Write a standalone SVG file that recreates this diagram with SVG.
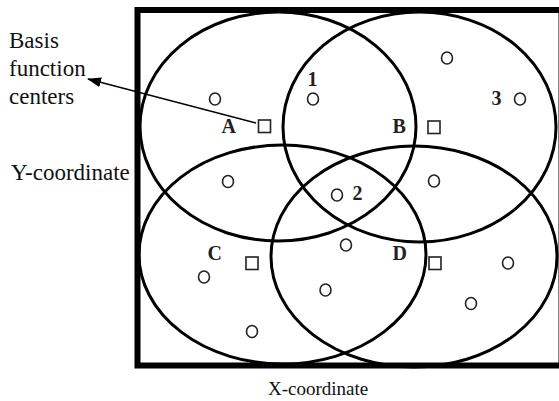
<svg xmlns="http://www.w3.org/2000/svg" width="559" height="401" viewBox="0 0 559 401">
<style>
.frame{fill:none;stroke:#000;stroke-width:6}
.rf{fill:none;stroke:#000;stroke-width:3}
.pt{fill:none;stroke:#222;stroke-width:1.6}
.ctr{fill:none;stroke:#222;stroke-width:1.6}
.lbl{font-family:"Liberation Serif","Times New Roman",serif;font-weight:bold;font-size:20px;fill:#222}
.txt{font-family:"Liberation Serif","Times New Roman",serif;fill:#111}
.conn{stroke:#000;stroke-width:1.6;fill:none}
</style>
<defs>
<marker id="ah" markerWidth="14" markerHeight="10" refX="13" refY="5" orient="auto" markerUnits="userSpaceOnUse">
<path d="M0,0 L14,5 L0,10 Z" fill="#000"/>
</marker>
</defs>
<rect width="559" height="401" fill="#fff"/>
<g id="frame"><rect class="frame" x="137.5" y="10" width="424" height="355.5"/></g>
<g id="regions">
<ellipse id="field-A" class="rf" cx="278" cy="126.5" rx="138" ry="114.5"/>
<ellipse id="field-B" class="rf" cx="419.5" cy="127" rx="136.5" ry="115"/>
<ellipse id="field-C" class="rf" cx="282.5" cy="254.5" rx="143.5" ry="109.5"/>
<ellipse id="field-D" class="rf" cx="414" cy="256.5" rx="143" ry="110.5"/>
</g>
<g id="centers">
<rect id="center-A" class="ctr" x="258.5" y="120" width="12" height="12.5"/>
<rect id="center-B" class="ctr" x="428" y="121" width="12" height="12.5"/>
<rect id="center-C" class="ctr" x="246" y="257" width="12" height="12.5"/>
<rect id="center-D" class="ctr" x="429" y="257" width="12" height="12.5"/>
</g>
<g id="points">
<ellipse class="pt" cx="215" cy="99" rx="5.5" ry="6"/>
<ellipse class="pt" cx="228" cy="181.5" rx="5.5" ry="6"/>
<ellipse class="pt" cx="313" cy="99" rx="5.5" ry="6"/>
<ellipse class="pt" cx="447" cy="58" rx="5.5" ry="6"/>
<ellipse class="pt" cx="520" cy="99" rx="5.5" ry="6"/>
<ellipse class="pt" cx="434" cy="181" rx="5.5" ry="6"/>
<ellipse class="pt" cx="337" cy="195" rx="5.5" ry="6"/>
<ellipse class="pt" cx="346" cy="245" rx="5.5" ry="6"/>
<ellipse class="pt" cx="325.5" cy="290" rx="5.5" ry="6"/>
<ellipse class="pt" cx="204" cy="277" rx="5.5" ry="6"/>
<ellipse class="pt" cx="252" cy="331.5" rx="5.5" ry="6"/>
<ellipse class="pt" cx="508" cy="263" rx="5.5" ry="6"/>
<ellipse class="pt" cx="471" cy="303.5" rx="5.5" ry="6"/>
</g>
<g id="labels">
<text class="lbl" x="221.5" y="132.5">A</text>
<text class="lbl" x="392.5" y="132.5">B</text>
<text class="lbl" x="207.5" y="259.5">C</text>
<text class="lbl" x="392.5" y="259.5">D</text>
<text class="lbl" x="307.5" y="86">1</text>
<text class="lbl" x="352.5" y="200">2</text>
<text class="lbl" x="491.5" y="104.5">3</text>
</g>
<g id="caption-basis">
<text class="txt" font-size="23" x="9" y="48">Basis</text>
<text class="txt" font-size="23" x="9" y="76">function</text>
<text class="txt" font-size="23" x="9" y="104">centers</text>
</g>
<g id="axis-y"><text class="txt" font-size="23" x="11" y="180">Y-coordinate</text></g>
<g id="axis-x"><text class="txt" font-size="19" x="268" y="395">X-coordinate</text></g>
<g id="connectors">
<line class="conn" x1="256" y1="123" x2="88" y2="79" marker-end="url(#ah)"/>
</g>
</svg>
